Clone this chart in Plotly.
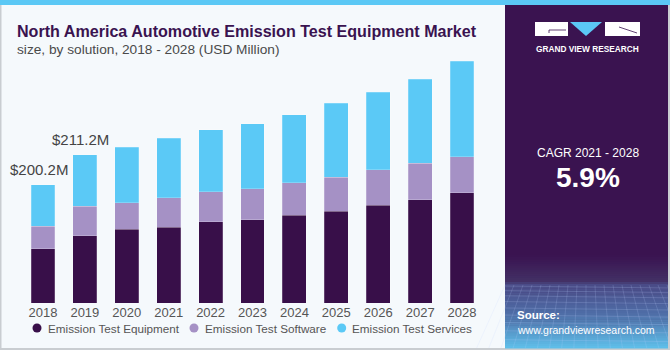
import plotly.graph_objects as go

years = ["2018", "2019", "2020", "2021", "2022", "2023", "2024", "2025", "2026", "2027", "2028"]
equipment = [91.9, 113.9, 125.2, 127.9, 137.6, 140.5, 148.9, 155.7, 165.2, 174.8, 186.2]
software = [38.4, 49.6, 44.5, 50.3, 50.8, 53.0, 54.2, 57.5, 59.9, 61.4, 61.4]
services = [69.9, 87.5, 93.6, 101.0, 104.9, 110.0, 115.6, 125.2, 131.3, 142.8, 161.3]
series_names = ["Emission Test Equipment", "Emission Test Software", "Emission Test Services"]
label_years = ["2018", "2019"]
label_texts = ["$200.2M", "$211.2M"]

colors = ["#380f49", "#a591c5", "#5bc9f6"]

W, H = 670, 350
ML, MR, MT, MB = 22, 187, 60, 47
PW, PH = W - ML - MR, H - MT - MB
FONT = "Liberation Sans, Arial"


def fx(x):
    return (x - ML) / PW


def fy(y):
    return (H - MB - y) / PH


fig = go.Figure()
for name, vals, col in zip(series_names, [equipment, software, services], colors):
    fig.add_trace(go.Bar(x=years, y=vals, name=name,
                         marker=dict(color=col, line=dict(width=0.6, color="rgba(255,255,255,0.35)")),
                         showlegend=False))

totals = [e + s + v for e, s, v in zip(equipment, software, services)]
for yr, txt in zip(label_years, label_texts):
    i = years.index(yr)
    fig.add_annotation(x=i, y=totals[i], text=txt, showarrow=False, xshift=-4, yshift=15,
                       yanchor="middle", font=dict(size=15, color="#444444", family=FONT))

shapes = []
# top band
shapes.append(dict(type="rect", xref="paper", yref="paper", x0=fx(0), x1=fx(670), y0=fy(0), y1=fy(5),
                   fillcolor="#5bc8f5", line=dict(width=0), layer="below"))
# borders
shapes.append(dict(type="rect", xref="paper", yref="paper", x0=fx(0), x1=fx(1.5), y0=fy(5), y1=fy(350),
                   fillcolor="#c9cdd1", line=dict(width=0), layer="below"))
shapes.append(dict(type="rect", xref="paper", yref="paper", x0=fx(0), x1=fx(670), y0=fy(348), y1=fy(350),
                   fillcolor="#c9cdd1", line=dict(width=0), layer="below"))
shapes.append(dict(type="rect", xref="paper", yref="paper", x0=fx(668), x1=fx(670), y0=fy(5), y1=fy(350),
                   fillcolor="#c9cdd1", line=dict(width=0), layer="below"))
# right panel
shapes.append(dict(type="rect", xref="paper", yref="paper", x0=fx(505), x1=fx(668), y0=fy(5), y1=fy(348),
                   fillcolor="#3a1350", line=dict(width=0)))


def lerp(c1, c2, t):
    a = [int(c1[i:i + 2], 16) for i in (1, 3, 5)]
    b = [int(c2[i:i + 2], 16) for i in (1, 3, 5)]
    return "#%02x%02x%02x" % tuple(int(round(a[k] + (b[k] - a[k]) * t)) for k in range(3))


stops = [(255, "#3a1350"), (282, "#433166"), (284, "#4a4a86"), (315, "#4f6fa8"), (348, "#5fc0ea")]
for (y0, c0), (y1, c1) in zip(stops[:-1], stops[1:]):
    n = max(1, int((y1 - y0) / 2))
    for k in range(n):
        ya = y0 + (y1 - y0) * k / n
        yb = y0 + (y1 - y0) * (k + 1) / n
        shapes.append(dict(type="rect", xref="paper", yref="paper", x0=fx(505), x1=fx(668),
                           y0=fy(ya), y1=fy(yb + 0.5), fillcolor=lerp(c0, c1, (k + 0.5) / n), line=dict(width=0)))
# grid texture
gy = 286
step = 4
while gy < 348:
    shapes.append(dict(type="line", xref="paper", yref="paper", x0=fx(505), x1=fx(668), y0=fy(gy), y1=fy(gy + 2),
                       line=dict(color="rgba(190,210,255,0.28)", width=0.7)))
    step += 0.6
    gy += step
for gx in range(505, 670, 9):
    shapes.append(dict(type="line", xref="paper", yref="paper", x0=fx(gx), x1=fx(gx + (gx - 586) * 0.35),
                       y0=fy(285), y1=fy(348), line=dict(color="rgba(190,210,255,0.25)", width=0.7)))
# logo
shapes.append(dict(type="rect", xref="paper", yref="paper", x0=fx(535), x1=fx(568), y0=fy(22), y1=fy(36),
                   fillcolor="white", line=dict(width=0)))
shapes.append(dict(type="rect", xref="paper", yref="paper", x0=fx(605), x1=fx(640), y0=fy(22), y1=fy(36),
                   fillcolor="white", line=dict(width=0)))
shapes.append(dict(type="path", xref="paper", yref="paper",
                   path="M %f,%f L %f,%f L %f,%f Z" % (fx(570), fy(22), fx(602), fy(22), fx(586), fy(36)),
                   fillcolor="#5bc8f5", line=dict(width=0)))
shapes.append(dict(type="line", xref="paper", yref="paper", x0=fx(549), x1=fx(566), y0=fy(30), y1=fy(30),
                   line=dict(color="#3a1350", width=0.8)))
shapes.append(dict(type="line", xref="paper", yref="paper", x0=fx(549), x1=fx(549), y0=fy(30), y1=fy(33),
                   line=dict(color="#3a1350", width=0.8)))
shapes.append(dict(type="line", xref="paper", yref="paper", x0=fx(619), x1=fx(637), y0=fy(27), y1=fy(33),
                   line=dict(color="#3a1350", width=0.8)))

# legend (dots + labels)
legend_x = [37, 194, 341.7]
legend_y = 328
for name, col, lx in zip(series_names, colors, legend_x):
    shapes.append(dict(type="circle", xref="paper", yref="paper", xsizemode="pixel", ysizemode="pixel",
                       xanchor=fx(lx), yanchor=fy(legend_y), x0=-4.5, x1=4.5, y0=-4.5, y1=4.5,
                       fillcolor=col, line=dict(width=0)))
    fig.add_annotation(text=name, xref="paper", yref="paper", x=fx(lx + 8.5), y=fy(legend_y),
                       xanchor="left", yanchor="middle", showarrow=False,
                       font=dict(size=11.7, color="#555555", family=FONT))

fig.update_layout(shapes=shapes)

ann = [
    dict(text="<b>North America Automotive Emission Test Equipment Market</b>", x=15, y=31, size=16.1,
         color="#3a1350", xanchor="left"),
    dict(text="size, by solution, 2018 - 2028 (USD Million)", x=15, y=49, size=13.7, color="#4a4a4a",
         xanchor="left"),
    dict(text="<b>GRAND VIEW RESEARCH</b>", x=587.5, y=49, size=8.3, color="white", xanchor="center"),
    dict(text="CAGR 2021 - 2028", x=587.5, y=153, size=12, color="white", xanchor="center"),
    dict(text="<b>5.9%</b>", x=587.5, y=177, size=28, color="white", xanchor="center"),
    dict(text="<b>Source:</b>", x=515, y=315, size=11.5, color="white", xanchor="left"),
    dict(text="www.grandviewresearch.com", x=515, y=330, size=10.5, color="white", xanchor="left"),
]
for a in ann:
    fig.add_annotation(text=a["text"], xref="paper", yref="paper", x=fx(a["x"]), y=fy(a["y"]),
                       xanchor=a["xanchor"], yanchor="middle", showarrow=False,
                       font=dict(size=a["size"], color=a["color"], family=FONT))

fig.update_layout(
    width=W, height=H, margin=dict(l=ML, r=MR, t=MT, b=MB),
    barmode="stack", bargap=0.43,
    paper_bgcolor="#f5f9fc", plot_bgcolor="#f5f9fc",
    font=dict(family=FONT, color="#555555"),
    xaxis=dict(type="category", range=[-0.5, len(years) - 0.5], showgrid=False, showline=False,
               zeroline=False, ticks="", tickfont=dict(size=13, color="#555555"), fixedrange=True),
    yaxis=dict(range=[0, PH * 200.2 / 118.3], visible=False, fixedrange=True),
    showlegend=False,
)

fig.write_html("out.html")
